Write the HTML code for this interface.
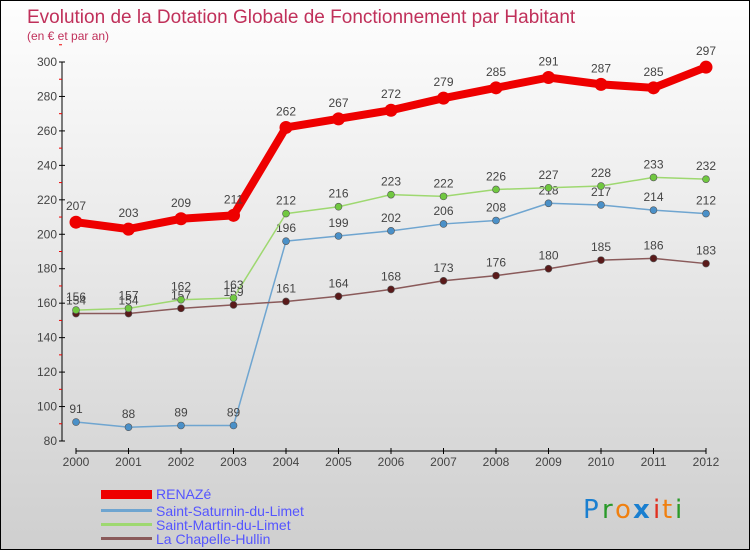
<!DOCTYPE html>
<html><head><meta charset="utf-8"><style>
body{margin:0;}
#wrap{width:748px;height:548px;border:1px solid #000;background:linear-gradient(#fefefe,#cfcfcf);position:relative;overflow:hidden;font-family:"Liberation Sans",sans-serif;}
svg{position:absolute;left:0;top:0;}
</style></head><body>
<div id="wrap">
<svg id="chart" width="750" height="550">
<text x="26" y="22" font-size="19" fill="#c0305a">Evolution de la Dotation Globale de Fonctionnement par Habitant</text>
<text x="26" y="39" font-size="12" fill="#c0305a">(en € et par an)</text>
<g id="axes"></g><g id="series"></g>
<g>
<rect x="100" y="489" width="51" height="9" fill="#e00"/>
<text x="155" y="498" font-size="14" fill="#55f">RENAZé</text>
<rect x="100" y="508" width="51" height="3" fill="#6fa5d0"/>
<text x="155" y="515" font-size="14" fill="#55f">Saint-Saturnin-du-Limet</text>
<rect x="100" y="522" width="51" height="3" fill="#9ed870"/>
<text x="155" y="529" font-size="14" fill="#55f">Saint-Martin-du-Limet</text>
<rect x="100" y="536" width="51" height="3" fill="#8a5a5a"/>
<text x="155" y="543" font-size="14" fill="#55f">La Chapelle-Hullin</text>
</g>
<g font-size="26" font-family="'DejaVu Sans',sans-serif">
<text x="582" y="517" fill="#1a7fd0">P</text><text x="601" y="517" fill="#2a9a2a">r</text><text x="614" y="517" fill="#f08010">o</text><text x="632" y="517" fill="#1a7fd0" font-weight="bold">x</text><text x="652" y="517" fill="#e03020">i</text><text x="661" y="517" fill="#f08010">t</text><text x="674" y="517" fill="#2a9a2a">i</text>
</g>
</svg></div>
<script>
const years=[2000,2001,2002,2003,2004,2005,2006,2007,2008,2009,2010,2011,2012];
const renaze=[207,203,209,211,262,267,272,279,285,291,287,285,297];
const saturnin=[91,88,89,89,196,199,202,206,208,218,217,214,212];
const martin=[156,157,162,163,212,216,223,222,226,227,228,233,232];
const chapelle=[154,154,157,159,161,164,168,173,176,180,185,186,183];
const yTicks=[80,100,120,140,160,180,200,220,240,260,280,300];
const NS="http://www.w3.org/2000/svg";
const X=i=>75+i*52.5, Y=v=>440-(v-80)*(379/220);
function mk(t,a,p){const e=document.createElementNS(NS,t);for(const k in a)e.setAttribute(k,a[k]);p.appendChild(e);return e;}
const ax=document.getElementById('axes');
let yl=mk('line',{x1:61,y1:Y(300),x2:61,y2:Y(80),stroke:'#000','stroke-width':1},ax);

yTicks.forEach(v=>{mk('line',{x1:58,y1:Y(v),x2:64,y2:Y(v),stroke:'#000'},ax);
 mk('line',{x1:58,y1:Y(v+10),x2:61,y2:Y(v+10),stroke:'#e00'},ax);
 const t=mk('text',{x:56,y:Y(v)+4,'font-size':12,fill:'#444','text-anchor':'end'},ax);t.textContent=v;
 });
let xl=mk('line',{x1:X(0),y1:450,x2:X(12),y2:450,stroke:'#000'},ax);

years.forEach((y,i)=>{mk('line',{x1:X(i),y1:447,x2:X(i),y2:453,stroke:'#000'},ax);
 const t=mk('text',{x:X(i),y:465,'font-size':12,fill:'#444','text-anchor':'middle'},ax);t.textContent=y;
 });
const sg=document.getElementById('series');
function draw(vals,name,color,fill,w,r){
 const g=mk('g',{},sg);
 mk('polyline',{points:vals.map((v,i)=>X(i)+','+Y(v)).join(' '),fill:'none',stroke:color,'stroke-width':w,'stroke-linejoin':'round'},g);
 vals.forEach((v,i)=>{const c=mk('circle',{cx:X(i),cy:Y(v),r:r,fill:fill,stroke:r>4?'none':'#555','stroke-width':0.6},g);
  
  const t=mk('text',{x:X(i),y:Y(v)-(r>4?12:9),'font-size':12,fill:'#444','text-anchor':'middle'},g);t.textContent=v;
  });
}
draw(saturnin,'saturnin','#6fa5d0','#4a90c8',1.5,3.5);
draw(chapelle,'chapelle','#8a5a5a','#5a1a1a',1.5,3.5);
draw(martin,'martin','#9ed870','#70c840',1.5,3.5);
draw(renaze,'renaze','#e00','#e00',8,6.5);
</script></body></html>
